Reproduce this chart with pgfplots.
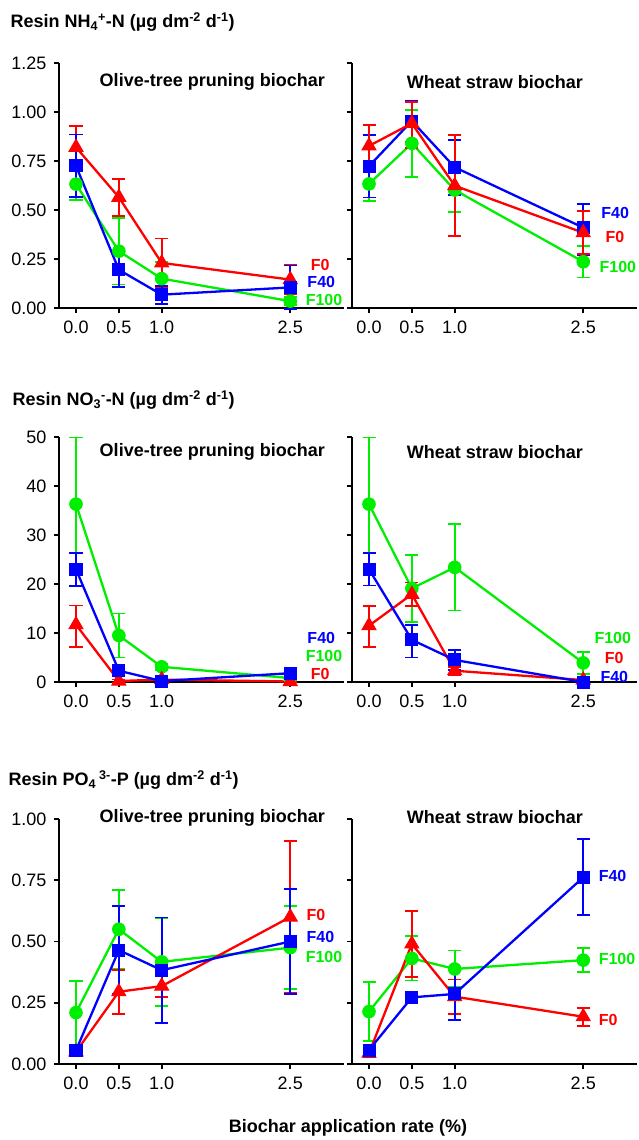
\documentclass[border=0pt]{standalone}
\usepackage{fontspec}
\setmainfont{Liberation Sans}
\usepackage{pgfplots}
\pgfplotsset{compat=1.18}

\definecolor{cF0}{RGB}{255,0,0}
\definecolor{cF40}{RGB}{0,0,255}
\definecolor{cF100}{RGB}{0,238,0}

\newcommand{\bigfont}{\fontsize{18}{20}\selectfont}
\newcommand{\labfont}{\fontsize{16}{18}\selectfont}

\pgfplotsset{
  panel/.style={
    anchor=origin, x=85.7pt, xmin=-0.2, xmax=3.13, ymin=0,
    axis lines=left, axis line style={-, line width=2pt},
    clip=false,
    xtick={0,0.5,1,2.5}, xticklabels={0.0,0.5,1.0,2.5},
    tick align=outside, major tick length=5pt,
    tick style={line width=1.6pt, black},
    tick label style={font=\bigfont},
    /pgf/number format/assume math mode=true,
    xticklabel style={yshift=-4pt},
    yticklabel style={xshift=-4pt},
  },
  err/.style={line width=2.3pt, mark options={solid, line width=1pt},
    error bars/.cd, y dir=both, y explicit,
    error bar style={line width=1.8pt},
    error mark options={rotate=90, mark size=6.5pt, line width=1.8pt}},
  sF0/.style={color=cF0, mark=triangle*, mark size=8pt, err},
  sF40/.style={color=cF40, mark=square*, mark size=6pt, err},
  sF100/.style={color=cF100, mark=*, mark size=6.3pt, err},
}
\tikzset{
  lab/.style={anchor=west, font=\bfseries\labfont},
  ptitle/.style={font=\bfseries\bigfont},
}

\begin{document}
\begin{tikzpicture}
\useasboundingbox (0,0) rectangle (639pt,-1140pt);

% row titles
\node[anchor=west, font=\bfseries\bigfont] at (7pt,-22pt) {Resin NH\textsubscript{4}\textsuperscript{+}-N (µg dm\textsuperscript{-2} d\textsuperscript{-1})};
\node[anchor=west, font=\bfseries\bigfont] at (9pt,-400pt) {Resin NO\textsubscript{3}\textsuperscript{-}-N (µg dm\textsuperscript{-2} d\textsuperscript{-1})};
\node[anchor=west, font=\bfseries\bigfont] at (5pt,-780pt) {Resin PO\textsubscript{4}\,\textsuperscript{3-}-P (µg dm\textsuperscript{-2} d\textsuperscript{-1})};
\node[font=\bfseries\bigfont] at (348pt,-1128pt) {Biochar application rate (\%)};

%% ---- NH4 olive
\begin{axis}[panel, at={(76pt,-308pt)}, y=196pt, ymax=1.25,
  ytick={0,0.25,0.5,0.75,1,1.25}, yticklabels={0.00,0.25,0.50,0.75,1.00,1.25}]
\addplot[sF100] coordinates {(0,0.632) +- (0,0.083) (0.5,0.29) +- (0,0.17) (1,0.15) +- (0,0.085) (2.5,0.035) +- (0,0.02)};
\addplot[sF0] coordinates {(0,0.82) +- (0,0.11) (0.5,0.565) +- (0,0.095) (1,0.23) +- (0,0.125) (2.5,0.145) +- (0,0.075)};
\addplot[sF40] coordinates {(0,0.725) +- (0,0.16) (0.5,0.195) +- (0,0.088) (1,0.068) +- (0,0.046) (2.5,0.105) +- (0,0.112)};
\node[ptitle] at (axis cs:1.59,1.153) {Olive-tree pruning biochar};
\node[lab, text=cF0] at (axis cs:2.70,0.22) {F0};
\node[lab, text=cF40] at (axis cs:2.66,0.133) {F40};
\node[lab, text=cF100] at (axis cs:2.64,0.04) {F100};
\end{axis}

%% ---- NH4 wheat
\begin{axis}[panel, at={(369pt,-308pt)}, y=196pt, ymax=1.25,
  ytick={0,0.25,0.5,0.75,1,1.25}, yticklabels={}]
\addplot[sF100] coordinates {(0,0.633) +- (0,0.087) (0.5,0.84) +- (0,0.17) (1,0.602) +- (0,0.114) (2.5,0.236) +- (0,0.08)};
\addplot[sF40] coordinates {(0,0.724) +- (0,0.16) (0.5,0.954) +- (0,0.105) (1,0.718) +- (0,0.14) (2.5,0.41) += (0,0.12) -= (0,0.14)};
\addplot[sF0] coordinates {(0,0.827) +- (0,0.108) (0.5,0.942) += (0,0.108) -= (0,0.127) (1,0.624) +- (0,0.257) (2.5,0.384) +- (0,0.11)};
\node[ptitle] at (axis cs:1.47,1.153) {Wheat straw biochar};
\node[lab, text=cF40] at (axis cs:2.67,0.485) {F40};
\node[lab, text=cF0] at (axis cs:2.72,0.362) {F0};
\node[lab, text=cF100] at (axis cs:2.65,0.21) {F100};
\end{axis}

%% ---- NO3 olive
\begin{axis}[panel, at={(76pt,-682pt)}, y=4.9pt, ymax=50,
  ytick={0,10,20,30,40,50}, yticklabels={0,10,20,30,40,50}]
\addplot[sF100] coordinates {(0,36.3) +- (0,13.6) (0.5,9.5) +- (0,4.5) (1,3.1) +- (0,0.6) (2.5,0.8) +- (0,0.3)};
\addplot[sF0] coordinates {(0,11.7) += (0,3.9) -= (0,4.6) (0.5,0.2) +- (0,0.3) (1,0.5) +- (0,0.3) (2.5,0.1) +- (0,0.1)};
\addplot[sF40] coordinates {(0,23.0) +- (0,3.35) (0.5,2.3) +- (0,0.5) (1,0.2) +- (0,0.2) (2.5,1.8) +- (0,0.5)};
\node[ptitle] at (axis cs:1.59,46.9) {Olive-tree pruning biochar};
\node[lab, text=cF40] at (axis cs:2.66,9.0) {F40};
\node[lab, text=cF100] at (axis cs:2.64,5.3) {F100};
\node[lab, text=cF0] at (axis cs:2.70,1.6) {F0};
\end{axis}

%% ---- NO3 wheat
\begin{axis}[panel, at={(369pt,-682pt)}, y=4.9pt, ymax=50,
  ytick={0,10,20,30,40,50}, yticklabels={}]
\addplot[sF100] coordinates {(0,36.3) +- (0,13.6) (0.5,19.1) +- (0,6.9) (1,23.4) +- (0,8.8) (2.5,3.9) +- (0,2.2)};
\addplot[sF0] coordinates {(0,11.5) += (0,4.0) -= (0,4.4) (0.5,17.9) +- (0,2.4) (1,2.3) +- (0,0.8) (2.5,0.4) +- (0,0.3)};
\addplot[sF40] coordinates {(0,23.0) +- (0,3.3) (0.5,8.6) += (0,3.0) -= (0,3.6) (1,4.5) +- (0,2.0) (2.5,0) +- (0,0.2)};
\node[ptitle] at (axis cs:1.47,46.9) {Wheat straw biochar};
\node[lab, text=cF100] at (axis cs:2.59,9.0) {F100};
\node[lab, text=cF0] at (axis cs:2.71,4.9) {F0};
\node[lab, text=cF40] at (axis cs:2.66,1.0) {F40};
\end{axis}

%% ---- PO4 olive
\begin{axis}[panel, at={(76pt,-1064pt)}, y=245pt, ymax=1,
  ytick={0,0.25,0.5,0.75,1}, yticklabels={0.00,0.25,0.50,0.75,1.00}]
\addplot[sF100] coordinates {(0,0.21) +- (0,0.13) (0.5,0.55) +- (0,0.16) (1,0.417) +- (0,0.18) (2.5,0.475) +- (0,0.17)};
\addplot[sF0] coordinates {(0,0.05) +- (0,0.015) (0.5,0.295) +- (0,0.09) (1,0.318) +- (0,0.045) (2.5,0.60) +- (0,0.31)};
\addplot[sF40] coordinates {(0,0.056) +- (0,0.02) (0.5,0.465) +- (0,0.18) (1,0.383) +- (0,0.215) (2.5,0.50) +- (0,0.215)};
\node[ptitle] at (axis cs:1.59,1.004) {Olive-tree pruning biochar};
\node[lab, text=cF0] at (axis cs:2.65,0.608) {F0};
\node[lab, text=cF40] at (axis cs:2.65,0.518) {F40};
\node[lab, text=cF100] at (axis cs:2.64,0.437) {F100};
\end{axis}

%% ---- PO4 wheat
\begin{axis}[panel, at={(369pt,-1064pt)}, y=245pt, ymax=1,
  ytick={0,0.25,0.5,0.75,1}, yticklabels={}]
\addplot[sF100] coordinates {(0,0.214) +- (0,0.12) (0.5,0.431) +- (0,0.09) (1,0.388) +- (0,0.075) (2.5,0.424) +- (0,0.05)};
\addplot[sF0] coordinates {(0,0.044) +- (0,0.015) (0.5,0.49) +- (0,0.135) (1,0.275) +- (0,0.07) (2.5,0.193) +- (0,0.037)};
\addplot[sF40] coordinates {(0,0.057) +- (0,0.02) (0.5,0.272) +- (0,0.015) (1,0.286) +- (0,0.105) (2.5,0.762) +- (0,0.155)};
\node[ptitle] at (axis cs:1.47,1.008) {Wheat straw biochar};
\node[lab, text=cF40] at (axis cs:2.64,0.767) {F40};
\node[lab, text=cF100] at (axis cs:2.64,0.429) {F100};
\node[lab, text=cF0] at (axis cs:2.64,0.18) {F0};
\end{axis}
\end{tikzpicture}
\end{document}
